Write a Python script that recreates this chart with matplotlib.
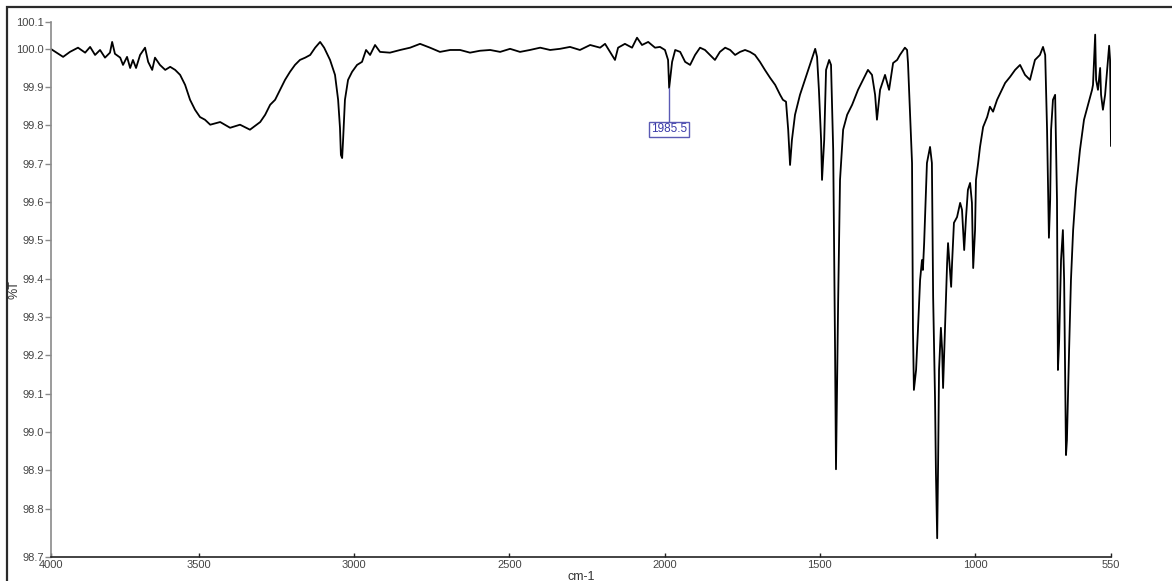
import matplotlib
matplotlib.use("Agg")
import matplotlib.pyplot as plt
from matplotlib.patches import Rectangle

plt.rcParams['font.family'] = ['Liberation Sans', 'DejaVu Sans']

# IR spectrum (cm-1 vs %T), read in pieces from high to low wavenumber
# 4000 - 3500: O-H shoulder starts
wn_a = [3978, 3938, 3916, 3890, 3867, 3851, 3835, 3819, 3803, 3787, 3780, 3771,
        3754, 3745, 3732, 3722, 3713, 3703, 3690, 3674, 3664, 3651, 3642, 3626,
        3609, 3593, 3577, 3561, 3545, 3529, 3513, 3497]
t_a = [100.000, 99.979, 99.992, 100.003, 99.990, 100.005, 99.984, 99.997, 99.977,
       99.990, 100.018, 99.987, 99.977, 99.958, 99.979, 99.950, 99.971, 99.950,
       99.984, 100.003, 99.966, 99.945, 99.977, 99.958, 99.945, 99.953, 99.945,
       99.932, 99.906, 99.867, 99.841, 99.822]

# 3500 - 2930: broad band and C-H stretch
wn_b = [3481, 3464, 3432, 3400, 3368, 3336, 3303, 3287, 3271, 3255, 3239, 3223,
        3207, 3191, 3175, 3158, 3142, 3126, 3110, 3097, 3078, 3062, 3052, 3046,
        3043, 3039, 3036, 3030, 3020, 3007, 2991, 2975, 2962, 2949, 2933]
t_b = [99.815, 99.802, 99.809, 99.794, 99.802, 99.789, 99.809, 99.828, 99.854,
       99.867, 99.893, 99.919, 99.940, 99.958, 99.971, 99.977, 99.984, 100.003,
       100.018, 100.003, 99.971, 99.932, 99.867, 99.794, 99.723, 99.715, 99.762,
       99.867, 99.919, 99.940, 99.958, 99.966, 99.997, 99.984, 100.010]

# 2930 - 1700: flat baseline
wn_c = [2917, 2885, 2852, 2820, 2788, 2756, 2724, 2691, 2659, 2627, 2595, 2562,
        2530, 2498, 2466, 2434, 2401, 2369, 2337, 2305, 2273, 2240, 2208,
        2192, 2176, 2160, 2150, 2128, 2105, 2089, 2073, 2053, 2031, 2015, 1999,
        1989, 1985.5, 1976, 1966, 1950, 1934, 1918, 1902, 1886, 1870, 1854, 1838,
        1822, 1805, 1789, 1773, 1757, 1741, 1725, 1709]
t_c = [99.992, 99.990, 99.997, 100.003, 100.013, 100.003, 99.992, 99.997, 99.997,
       99.990, 99.995, 99.997, 99.992, 100.000, 99.992, 99.997, 100.003, 99.997,
       100.000, 100.005, 99.997, 100.010, 100.003,
       100.013, 99.992, 99.971, 100.003, 100.013, 100.003, 100.029, 100.010,
       100.018, 100.003, 100.005, 99.997, 99.971, 99.898, 99.966, 99.997, 99.992,
       99.966, 99.958, 99.984, 100.003, 99.997, 99.984, 99.971, 99.992, 100.003,
       99.997, 99.984, 99.992, 99.997, 99.992, 99.984]

# 1700 - 1240
wn_d = [1693, 1677, 1660, 1644, 1628, 1619, 1609, 1602, 1596, 1590, 1580, 1564,
        1548, 1532, 1515, 1509, 1503, 1496, 1493, 1486, 1480, 1470, 1464, 1457,
        1451, 1448, 1441, 1435, 1425, 1412, 1396, 1377, 1361, 1345, 1332, 1322,
        1316, 1306, 1290, 1277, 1264, 1251, 1242]
t_d = [99.966, 99.945, 99.924, 99.906, 99.880, 99.867, 99.862, 99.789, 99.697,
       99.762, 99.828, 99.880, 99.919, 99.958, 100.000, 99.979, 99.893, 99.762,
       99.658, 99.762, 99.945, 99.971, 99.958, 99.736, 99.214, 98.903, 99.345,
       99.658, 99.789, 99.828, 99.854, 99.893, 99.919, 99.945, 99.932, 99.880,
       99.815, 99.893, 99.932, 99.893, 99.963, 99.971, 99.984]

# 1230 - 930: C-O region
wn_e = [1226, 1219, 1216, 1203, 1200, 1197, 1190, 1184, 1177, 1171, 1168, 1164,
        1158, 1155, 1145, 1139, 1135, 1129, 1126, 1122, 1119, 1116, 1110, 1106,
        1103, 1097, 1090, 1087, 1077, 1074, 1068, 1058, 1048, 1042, 1035, 1029,
        1023, 1016, 1010, 1006, 1000, 997, 990, 984, 974, 961, 952, 942, 929]
t_e = [100.003, 99.997, 99.963, 99.702, 99.266, 99.110, 99.162, 99.266, 99.397,
       99.449, 99.423, 99.493, 99.632, 99.702, 99.744, 99.702, 99.352, 99.091,
       98.893, 98.723, 98.919, 99.162, 99.272, 99.214, 99.115, 99.266, 99.441,
       99.493, 99.379, 99.441, 99.546, 99.561, 99.598, 99.580, 99.475, 99.561,
       99.632, 99.650, 99.598, 99.428, 99.527, 99.658, 99.702, 99.744, 99.796,
       99.822, 99.849, 99.836, 99.867]

# 930 - 550
wn_f = [903, 887, 871, 855, 839, 823, 807, 791, 781, 774, 768, 762, 758, 755,
        749, 742, 736, 733, 729, 723, 717, 713, 707, 704, 697, 691, 684, 675, 662,
        649, 636, 623, 620, 613, 610, 604, 597, 594, 588, 581, 572, 568, 565, 562]
t_f = [99.911, 99.927, 99.945, 99.958, 99.932, 99.919, 99.971, 99.984, 100.005,
       99.984, 99.789, 99.507, 99.606, 99.789, 99.867, 99.880, 99.606, 99.162,
       99.240, 99.449, 99.527, 99.397, 98.940, 98.979, 99.214, 99.397, 99.527,
       99.632, 99.736, 99.815, 99.854, 99.893, 99.906, 100.037, 99.919, 99.893,
       99.950, 99.880, 99.841, 99.880, 99.971, 100.008, 99.971, 99.747]

wavenumber = wn_a + wn_b + wn_c + wn_d + wn_e + wn_f
transmittance = t_a + t_b + t_c + t_d + t_e + t_f

peak_label = 1985.5
x_ticks = [3500, 3000, 2500, 2000, 1500, 1000]
y_ticks = [100.0, 99.9, 99.8, 99.7, 99.6, 99.5, 99.4, 99.3, 99.2, 99.1, 99.0, 98.9, 98.8]
x_range = (3977, 562)
y_range = (98.674, 100.07)

fig = plt.figure(figsize=(11.72, 5.81), dpi=100)
ax = fig.add_axes([51 / 1172, 1 - 557 / 581, 1060 / 1172, 535 / 581])

ax.plot(wavenumber, transmittance, color='black', lw=1.3)
ax.set_xlim(*x_range)
ax.set_ylim(*y_range)

# end ticks carry the rounded range limits
ax.set_xticks([x_range[0]] + x_ticks + [x_range[1]])
ax.set_xticklabels(['4000'] + [str(t) for t in x_ticks] + ['550'])
ax.set_yticks([y_range[0]] + y_ticks + [y_range[1]])
ax.set_yticklabels(['98.7'] + ['%.1f' % t for t in y_ticks] + ['100.1'])

for side in ['top', 'right']:
    ax.spines[side].set_visible(False)
ax.spines['left'].set_color('#8a8a8a')
ax.spines['left'].set_linewidth(1.2)
ax.spines['bottom'].set_color('#222222')
ax.spines['bottom'].set_linewidth(1.2)

ax.tick_params(axis='y', direction='out', length=4, width=1, color='#8a8a8a',
               labelsize=8, labelcolor='#444444', pad=1)
ax.tick_params(axis='x', direction='in', length=3, width=1, color='#222222',
               labelsize=8, labelcolor='#444444', pad=2)

ax.set_xlabel('cm-1', fontsize=9, color='#333333', labelpad=1)
ax.set_ylabel('%T', fontsize=9, color='#333333')
ax.yaxis.set_label_coords(-0.029, 0.5)

# peak marker for 1985.5
peak_T = transmittance[wavenumber.index(peak_label)]
ax.plot([peak_label, peak_label], [peak_T, 99.81], color='#5a5ab4', lw=1)
ax.text(peak_label, 99.79, '%.1f' % peak_label, ha='center', va='center',
        fontsize=8.5, color='#3a3aa8',
        bbox=dict(boxstyle='square,pad=0.15', fc='white', ec='#5a5ab4', lw=1))

# window frame around the plot
fig.patches.append(Rectangle((7 / 1172, -0.2), 1.2, 1.2 - 7 / 581,
                             transform=fig.transFigure, fill=False,
                             ec='#2a2a2a', lw=1.6))

fig.savefig('out.png', dpi=100)
